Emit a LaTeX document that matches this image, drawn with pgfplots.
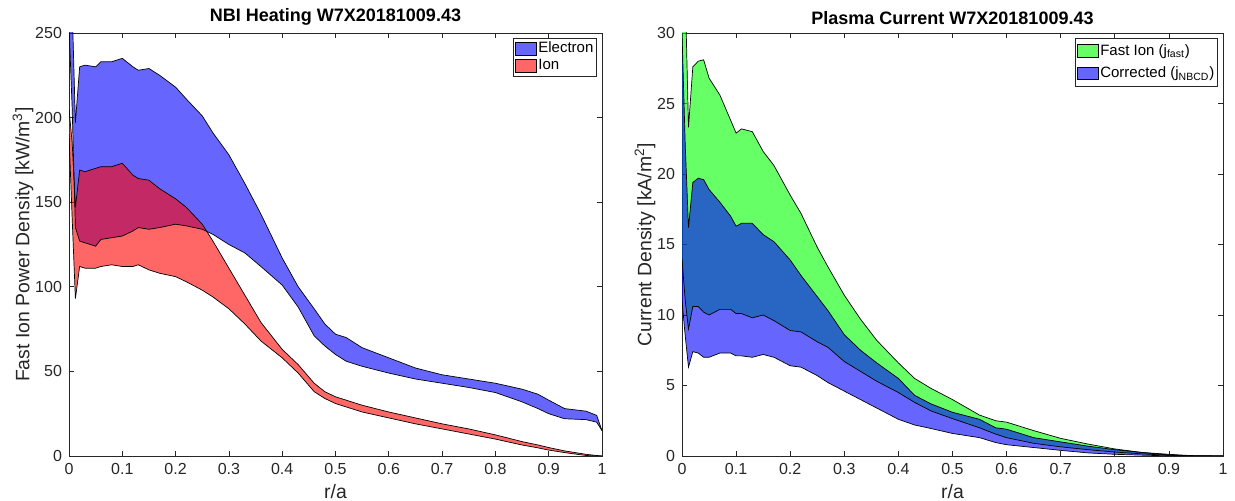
\documentclass[border=0pt]{standalone}
\usepackage{pgfplots}
\pgfplotsset{compat=1.18}
\usepgfplotslibrary{fillbetween}
\usepackage{pgfplotstable}
\usepackage{fontspec}
\setmainfont{Liberation Sans}
\definecolor{axgray}{RGB}{38,38,38}

\pgfplotstableread{
r eu el iu il
0 320 255 205 190
0.006 265 205 185 140
0.012 197 135 147 93
0.02 230 127 169 112
0.03 231 126 168 111
0.05 230 124 170 111
0.06 233 128 171 112
0.08 233 129 171 113
0.1 235 130 173 112
0.12 230 133 166 112
0.13 228 135 164 113
0.15 229 134 163 110
0.17 225 135 158 108
0.2 218 137 152 106
0.22 211 136 147 103
0.25 201 134 137 98
0.27 191 131 127 94
0.3 178 125 111 87
0.33 161 120 95 78
0.36 143 112 79 68
0.4 117 101 63 58
0.43 100 88 54 49
0.46 87 71 43 38
0.48 78 65 38 34
0.5 72 60 35 31
0.52 70 56 33 29
0.55 64 53 30 26
0.6 58 49 26 22.5
0.65 52 45.5 22.5 19
0.7 48 43 19 16
0.75 45.5 40.5 16 13
0.8 43 37.5 12.5 10
0.85 39.5 32 8.5 6.5
0.88 36.5 28 6.5 4.8
0.9 33 25 5 3.5
0.93 28 22 3 2
0.97 26.5 21.5 1 0.3
0.99 24 20 0.3 0
1.0 15 15 0 0
}\leftdata

\pgfplotstableread{
r gu gl bu bl
0 45 14 30 11
0.006 33 11 22 8.5
0.012 23.3 9.0 16.2 6.3
0.02 27.6 10.6 19.4 7.4
0.03 28.0 10.6 19.7 7.3
0.04 28.1 10.2 19.6 7.0
0.05 26.8 10.0 18.9 7.0
0.07 25.6 10.4 18.0 7.3
0.09 23.8 10.4 17.0 7.3
0.1 22.9 10.1 16.3 7.1
0.11 23.2 10.1 16.5 7.1
0.13 23.0 9.8 16.5 7.0
0.15 21.6 10.0 15.7 7.2
0.17 20.6 9.6 15.2 7.0
0.2 18.5 8.9 13.9 6.4
0.22 17.2 8.8 12.8 6.3
0.25 14.8 8.1 11.3 5.7
0.27 13.4 7.7 10.3 5.2
0.3 11.4 6.7 8.6 4.6
0.33 9.7 6.0 7.5 4.0
0.36 8.2 5.3 6.6 3.4
0.4 6.6 4.5 5.5 2.6
0.43 5.5 3.8 4.3 2.2
0.46 4.8 3.2 3.7 1.95
0.5 4.0 2.65 3.1 1.6
0.55 2.9 2.0 2.6 1.3
0.58 2.5 1.55 2.0 0.95
0.6 2.4 1.3 1.9 0.8
0.65 1.8 0.9 1.3 0.6
0.7 1.25 0.65 1.0 0.4
0.75 0.85 0.45 0.7 0.22
0.8 0.5 0.28 0.45 0.12
0.85 0.25 0.15 0.25 0.06
0.9 0.07 0.05 0.12 0.01
0.94 0 0 0.03 0
1.0 0 0 0 0
}\rightdata

\pgfplotsset{
  myax/.style={
    scale only axis, height=211.5pt,
    xmin=0, xmax=1,
    xtick={0,0.1,0.2,0.3,0.4,0.5,0.6,0.7,0.8,0.9,1},
    xticklabels={0,0.1,0.2,0.3,0.4,0.5,0.6,0.7,0.8,0.9,1},
    tick align=inside, tick pos=both,
    major tick length=2.7pt,
    axis line style={axgray, line width=0.4pt},
    every tick/.style={axgray, line width=0.4pt},
    tick label style={font=\fontsize{8}{9}\selectfont, text=axgray},
    label style={font=\fontsize{9.7}{11}\selectfont, text=axgray},
    title style={font=\bfseries\fontsize{9}{11}\selectfont, yshift=-5.5pt},
    /pgf/number format/assume math mode=true,
    xlabel={r/a},
    xlabel style={yshift=2pt},
    ylabel shift=-6pt,
    set layers,
    legend cell align=left,
    legend style={at={(1,1)}, anchor=north east, xshift=-2.5pt, yshift=-2.5pt,
      font=\fontsize{7.5}{8.5}\selectfont, draw=axgray, line width=0.4pt,
      inner sep=0.8pt, row sep=0pt,
      nodes={inner ysep=0.9pt, inner xsep=0.8pt}},
    legend image code/.code={\draw[#1] (0pt,-3.1pt) rectangle (10.5pt,3.2pt);},
  },
  band/.style={black, line width=0.35pt, forget plot},
}

\begin{document}
\begin{tikzpicture}
\begin{axis}[myax, width=266.5pt,
  ymin=0, ymax=250, ytick={0,50,100,150,200,250},
  ylabel={Fast Ion Power Density [kW/m\textsuperscript{3}]},
  title={NBI Heating W7X20181009.43}]
  \addplot[band, name path=eu] table[x=r, y=eu] {\leftdata};
  \addplot[band, name path=el] table[x=r, y=el] {\leftdata};
  \addplot[band, name path=iu] table[x=r, y=iu] {\leftdata};
  \addplot[band, name path=il] table[x=r, y=il] {\leftdata};
  \addplot[fill=blue, fill opacity=0.6, draw=none, forget plot] fill between[of=eu and el];
  \addplot[fill=red, fill opacity=0.6, draw=none, forget plot] fill between[of=iu and il];
  \addlegendimage{fill=blue!60, draw=black}
  \addlegendentry{Electron}
  \addlegendimage{fill=red!60, draw=black}
  \addlegendentry{Ion}
\end{axis}
\begin{axis}[myax, width=270.5pt, at={(306.5pt,0pt)},
  ymin=0, ymax=30, ytick={0,5,10,15,20,25,30},
  ylabel={Current Density [kA/m\textsuperscript{2}]},
  title={Plasma Current W7X20181009.43},
  legend style={row sep=2.5pt, inner ysep=2pt}]
  \addplot[band, name path=gu] table[x=r, y=gu] {\rightdata};
  \addplot[band, name path=gl] table[x=r, y=gl] {\rightdata};
  \addplot[band, name path=bu] table[x=r, y=bu] {\rightdata};
  \addplot[band, name path=bl] table[x=r, y=bl] {\rightdata};
  \addplot[fill=green, fill opacity=0.6, draw=none, forget plot] fill between[of=gu and gl];
  \addplot[fill=blue, fill opacity=0.6, draw=none, forget plot] fill between[of=bu and bl];
  \addlegendimage{fill=green!60, draw=black}
  \addlegendentry{Fast Ion (j\textsubscript{fast})}
  \addlegendimage{fill=blue!60, draw=black}
  \addlegendentry{Corrected (j\textsubscript{NBCD})}
\end{axis}
\pgfresetboundingbox
\path[use as bounding box] (-34.5pt,-22.5pt) rectangle (583pt,228pt);
\end{tikzpicture}
\end{document}
